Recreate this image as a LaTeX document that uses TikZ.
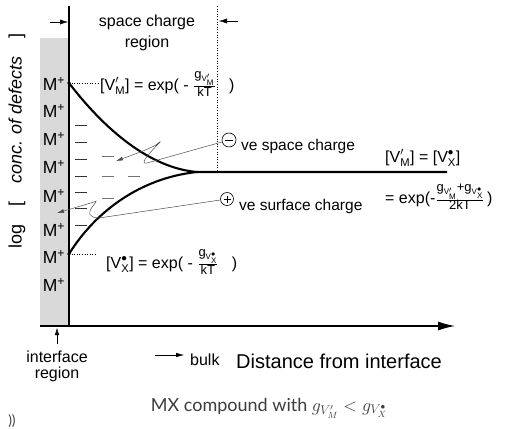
\RequirePackage{fix-cm}
\documentclass[tikz,border=0pt]{standalone}
\usepackage{amsmath}
\usepackage{fontspec}
\setmainfont{Liberation Sans}
\newfontfamily\capfont{Lato}
\usetikzlibrary{arrows.meta, positioning}
\definecolor{bandgray}{HTML}{D9D9D9}
\definecolor{capgray}{HTML}{3C3C3C}
\newcommand{\VM}{\text{V}^{\prime}_{\text{M}}}
\newcommand{\VX}{\text{V}^{\bullet}_{\text{X}}}
\newcommand{\fsz}[1]{\text{\fontsize{13}{14}\selectfont #1}}
\newcommand{\gfrac}[2]{\genfrac{}{}{0.5pt}{}{#1}{#2}}
\tikzset{
  every node/.style={inner sep=0pt, font=\fontsize{16}{19}\selectfont},
  axisline/.style={line width=1.2pt},
  curve/.style={line width=2.1pt},
  minus/.style={line width=0.9pt, line cap=butt},
  lasso/.style={line width=0.5pt, black!70, -{Latex[length=7pt,width=4pt]}},
  dotline/.style={dotted, line width=0.6pt},
  chargesign/.style={draw, circle, line width=0.6pt, minimum size=14pt}
}
\begin{document}
\begin{tikzpicture}[x=1pt, y=-1pt]
  \useasboundingbox (0,0) rectangle (513,428);
  % interface band and axes
  \fill[bandgray] (40,38) rectangle (69,326);
  \coordinate (axtop) at (69,6);
  \coordinate (orig) at (69,326);
  \coordinate (xstart) at (40,326);
  \coordinate (xend) at (455,326);
  \draw[axisline] (axtop) -- (orig);
  \draw[axisline, -{Latex[length=17pt,width=9pt]}] (xstart) -- (xend);

  % space charge region marks
  \node (sc) at (147,22) {space charge};
  \node (scr) at (147,43) {region};
  \coordinate (la) at (50,22);
  \coordinate (lb) at (68,22);
  \coordinate (ra) at (238,21);
  \coordinate (rb) at (219,21);
  \draw[-{Latex[length=8pt,width=5pt]}] (la) -- (lb);
  \draw[-{Latex[length=8pt,width=5pt]}] (ra) -- (rb);
  \coordinate (dtop) at (217,6);
  \coordinate (dbot) at (217,172);
  \draw[dotline] (dtop) -- (dbot);

  % cations at the interface
  \foreach \y [count=\i] in {84,111,139,167,196,230,257,285}
    \node[font=\fontsize{17.5}{20}\selectfont] (m\i) at (54,\y) {M\textsuperscript{+}};

  % negative space charge
  \foreach \x/\y in {81/125,81/142,81/159,81/176,81/192,81/208,81/225}
    \draw[minus, black!80] (\x-6,\y) -- (\x+6,\y);
  \foreach \x/\y in {108/156,108/176,134/176,108/198}
    \draw[minus, black!55] (\x-6,\y) -- (\x+6,\y);

  % defect profiles
  \coordinate (top) at (69,83);
  \coordinate (bot) at (69,254);
  \coordinate (meet) at (197,172);
  \coordinate (flatend) at (447,172);
  \draw[curve] (top) .. controls (105,130) and (150,168) .. (meet) -- (flatend);
  \draw[curve] (bot) .. controls (95,212) and (140,178) .. (meet);
  \fill (top) circle[radius=1.8pt];
  \fill (bot) circle[radius=1.8pt];

  \node[anchor=west] (fm) at (100,84) {[$\VM$] = exp( - $\gfrac{\fsz{g}_{\VM}}{\fsz{kT}}$ \ \ )};
  \node[anchor=west] (fx) at (106,262) {[$\VX$] = exp( - $\gfrac{\fsz{g}_{\VX}}{\fsz{kT}}$ \ \ )};
  \coordinate (fmend) at (98,83);
  \coordinate (fxend) at (97,254);
  \draw[dotline] (top) -- (fmend);
  \draw[dotline] (bot) -- (fxend);

  \node[anchor=west] (eq) at (385,158) {[$\VM$] = [$\VX$]};
  \node[anchor=west] (eqb) at (385,197) {= exp(-$\gfrac{\fsz{g}_{\VM}\fsz{+g}_{\VX}}{\fsz{2kT}}$\,)};

  % charge labels
  \node[chargesign] (neg) at (229,140) {};
  \draw[line width=0.7pt] ([xshift=-4pt]neg.center) -- ([xshift=4pt]neg.center);
  \node[anchor=west, font=\fontsize{15.5}{18}\selectfont] (negt) at (241,146) {ve space charge};
  \node[chargesign, minimum size=13pt] (pos) at (227,199) {};
  \draw[line width=0.7pt] ([xshift=-3.5pt]pos.center) -- ([xshift=3.5pt]pos.center);
  \draw[line width=0.7pt] ([yshift=-3.5pt]pos.center) -- ([yshift=3.5pt]pos.center);
  \node[anchor=west, font=\fontsize{15.5}{18}\selectfont] (post) at (239,206) {ve surface charge};

  \coordinate (nA) at (147,163);
  \coordinate (nB) at (156,145);
  \coordinate (ntip) at (116,161);
  \draw[lasso] (neg) -- (nA) .. controls (133,166) and (174,130) .. (nB) .. controls (146,150) .. (ntip);
  \coordinate (pA) at (99,218);
  \coordinate (pB) at (94,202);
  \coordinate (ptip) at (57,213);
  \draw[lasso] (pos) -- (pA) .. controls (76,217) and (104,197) .. (pB) .. controls (84,205) .. (ptip);

  % axis labels
  \node[rotate=90, font=\fontsize{18}{21}\selectfont] (ylab) at (17,141) {log\quad[\quad\textit{conc. of defects}\quad]};
  \node (ifc) at (57,357) {interface};
  \node (ifr) at (57,374) {region};
  \coordinate (iftail) at (57,344);
  \coordinate (ifhead) at (57,328);
  \draw[-{Latex[length=7pt,width=4.5pt]}] (iftail) -- (ifhead);
  \coordinate (bk1) at (155,355);
  \coordinate (bk2) at (184,355);
  \draw[-{Latex[length=8pt,width=4.5pt]}] (bk1) -- (bk2);
  \node[anchor=west] (bulk) at (190,360) {bulk};
  \node[anchor=west, font=\fontsize{20}{24}\selectfont] (dist) at (236,361) {Distance from interface};

  % caption
  \node[font=\capfont\fontsize{18}{20}\selectfont, text=capgray] (cap) at (269,408) {MX compound with $g_{V'_M} < g_{V^{\bullet}_X}$};
  \node[font=\capfont\fontsize{14}{16}\selectfont, text=capgray] (par) at (12,421) {))};
\end{tikzpicture}
\end{document}
